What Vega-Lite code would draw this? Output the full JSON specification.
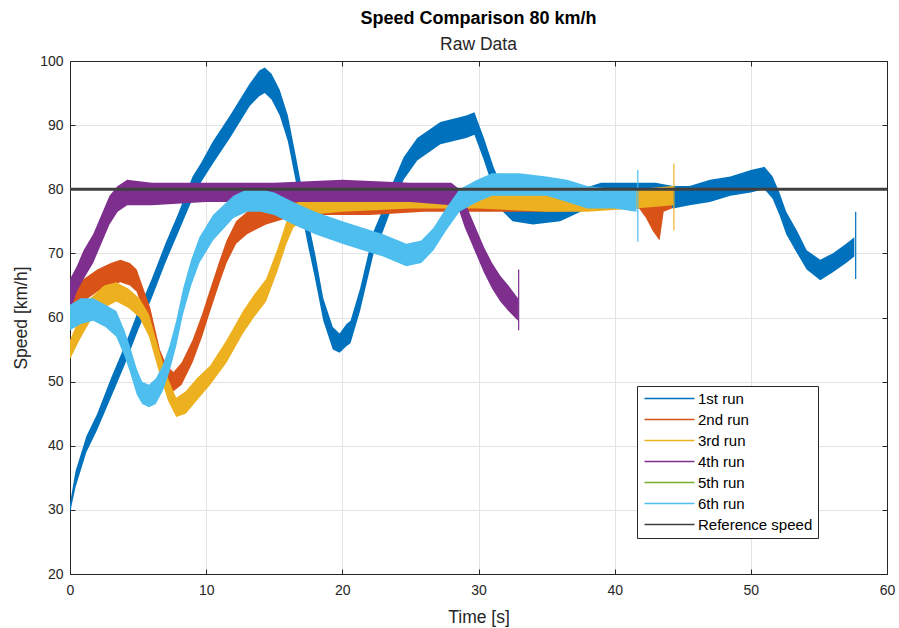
{
  "$schema": "https://vega.github.io/schema/vega-lite/v6.json",
  "autosize": {"type": "none"},
  "width": 817,
  "height": 513,
  "padding": {"left": 70, "top": 61, "right": 12, "bottom": 54},
  "background": "white",
  "title": {
    "text": "Speed Comparison 80 km/h",
    "subtitle": "Raw Data",
    "anchor": "middle",
    "font": "Liberation Sans",
    "fontSize": 18,
    "fontWeight": "bold",
    "color": "#000000",
    "subtitleFont": "Liberation Sans",
    "subtitleFontSize": 17.5,
    "subtitleColor": "#262626",
    "subtitlePadding": 8,
    "offset": 1
  },
  "datasets": {
    "runs": [
      {"run": "1st run", "t": 0, "lo": 29.5, "hi": 31},
      {"run": "1st run", "t": 0.4, "lo": 33.5, "hi": 36},
      {"run": "1st run", "t": 1.2, "lo": 39, "hi": 41.5},
      {"run": "1st run", "t": 2, "lo": 42.5, "hi": 45},
      {"run": "1st run", "t": 3, "lo": 47.5, "hi": 50.5},
      {"run": "1st run", "t": 4, "lo": 52.5, "hi": 55.5},
      {"run": "1st run", "t": 5, "lo": 58, "hi": 61},
      {"run": "1st run", "t": 6, "lo": 63, "hi": 66},
      {"run": "1st run", "t": 7, "lo": 68.5, "hi": 71.5},
      {"run": "1st run", "t": 8, "lo": 73.5, "hi": 76.5},
      {"run": "1st run", "t": 9, "lo": 78.5, "hi": 82},
      {"run": "1st run", "t": 9.6, "lo": 81, "hi": 84},
      {"run": "1st run", "t": 10.5, "lo": 84, "hi": 87.5},
      {"run": "1st run", "t": 11.75, "lo": 88, "hi": 91.5},
      {"run": "1st run", "t": 13.2, "lo": 93, "hi": 96.5},
      {"run": "1st run", "t": 13.9, "lo": 94.5, "hi": 98.5},
      {"run": "1st run", "t": 14.3, "lo": 95, "hi": 99},
      {"run": "1st run", "t": 14.8, "lo": 94, "hi": 98},
      {"run": "1st run", "t": 15.4, "lo": 91.5, "hi": 95.5},
      {"run": "1st run", "t": 16, "lo": 87.5, "hi": 91.5},
      {"run": "1st run", "t": 16.6, "lo": 81, "hi": 85},
      {"run": "1st run", "t": 17.4, "lo": 72, "hi": 76},
      {"run": "1st run", "t": 18, "lo": 66, "hi": 70},
      {"run": "1st run", "t": 18.6, "lo": 59.5, "hi": 63},
      {"run": "1st run", "t": 19.3, "lo": 55, "hi": 58.5},
      {"run": "1st run", "t": 19.8, "lo": 54.5, "hi": 57.5},
      {"run": "1st run", "t": 20.3, "lo": 55.5, "hi": 59},
      {"run": "1st run", "t": 20.6, "lo": 56, "hi": 59.5},
      {"run": "1st run", "t": 21.3, "lo": 61, "hi": 64.5},
      {"run": "1st run", "t": 22.3, "lo": 70, "hi": 73.5},
      {"run": "1st run", "t": 23, "lo": 73.5, "hi": 77},
      {"run": "1st run", "t": 23.7, "lo": 77.5, "hi": 81},
      {"run": "1st run", "t": 24.5, "lo": 81.5, "hi": 85},
      {"run": "1st run", "t": 25.5, "lo": 84.5, "hi": 88},
      {"run": "1st run", "t": 27.2, "lo": 87, "hi": 90.5},
      {"run": "1st run", "t": 29.1, "lo": 88, "hi": 91.5},
      {"run": "1st run", "t": 29.7, "lo": 88.5, "hi": 92},
      {"run": "1st run", "t": 30.4, "lo": 84.5, "hi": 88},
      {"run": "1st run", "t": 31.1, "lo": 80, "hi": 83.5},
      {"run": "1st run", "t": 31.8, "lo": 76.5, "hi": 80},
      {"run": "1st run", "t": 32.5, "lo": 75, "hi": 78.5},
      {"run": "1st run", "t": 34, "lo": 74.5, "hi": 78},
      {"run": "1st run", "t": 36, "lo": 75, "hi": 78.5},
      {"run": "1st run", "t": 37.5, "lo": 76.5, "hi": 80},
      {"run": "1st run", "t": 39, "lo": 78, "hi": 81},
      {"run": "1st run", "t": 41, "lo": 78, "hi": 81},
      {"run": "1st run", "t": 43, "lo": 78, "hi": 81},
      {"run": "1st run", "t": 44.3, "lo": 77, "hi": 80.5},
      {"run": "1st run", "t": 45.5, "lo": 77.5, "hi": 80.5},
      {"run": "1st run", "t": 47, "lo": 78, "hi": 81.5},
      {"run": "1st run", "t": 48.5, "lo": 79, "hi": 82},
      {"run": "1st run", "t": 50, "lo": 79.5, "hi": 83},
      {"run": "1st run", "t": 51, "lo": 80, "hi": 83.5},
      {"run": "1st run", "t": 51.6, "lo": 78.5, "hi": 82},
      {"run": "1st run", "t": 52.1, "lo": 76, "hi": 79.5},
      {"run": "1st run", "t": 52.6, "lo": 73, "hi": 76.5},
      {"run": "1st run", "t": 53.4, "lo": 70, "hi": 73.5},
      {"run": "1st run", "t": 54.1, "lo": 67.5, "hi": 70.5},
      {"run": "1st run", "t": 55.1, "lo": 65.8, "hi": 69},
      {"run": "1st run", "t": 56, "lo": 67, "hi": 70},
      {"run": "1st run", "t": 57, "lo": 68.5, "hi": 71.5},
      {"run": "1st run", "t": 57.6, "lo": 69.5, "hi": 72.5},

      {"run": "2nd run", "t": 0, "lo": 60.5, "hi": 64},
      {"run": "2nd run", "t": 1, "lo": 62.5, "hi": 66},
      {"run": "2nd run", "t": 2, "lo": 64, "hi": 67.5},
      {"run": "2nd run", "t": 3, "lo": 65, "hi": 68.5},
      {"run": "2nd run", "t": 3.7, "lo": 65.5, "hi": 69},
      {"run": "2nd run", "t": 4.4, "lo": 65, "hi": 68.5},
      {"run": "2nd run", "t": 4.9, "lo": 64, "hi": 67.5},
      {"run": "2nd run", "t": 5.4, "lo": 61, "hi": 64.5},
      {"run": "2nd run", "t": 5.9, "lo": 58, "hi": 61.5},
      {"run": "2nd run", "t": 6.6, "lo": 51.5, "hi": 55},
      {"run": "2nd run", "t": 7.1, "lo": 49, "hi": 52.5},
      {"run": "2nd run", "t": 7.6, "lo": 48.5, "hi": 51.5},
      {"run": "2nd run", "t": 8.2, "lo": 49.5, "hi": 53},
      {"run": "2nd run", "t": 9, "lo": 53, "hi": 56.5},
      {"run": "2nd run", "t": 9.7, "lo": 57, "hi": 60.5},
      {"run": "2nd run", "t": 10.3, "lo": 61, "hi": 64.5},
      {"run": "2nd run", "t": 11, "lo": 65.5, "hi": 69},
      {"run": "2nd run", "t": 11.5, "lo": 68.5, "hi": 72},
      {"run": "2nd run", "t": 12.2, "lo": 71.5, "hi": 75},
      {"run": "2nd run", "t": 13, "lo": 73, "hi": 76.5},
      {"run": "2nd run", "t": 14.4, "lo": 74.5, "hi": 78},
      {"run": "2nd run", "t": 16, "lo": 75.5, "hi": 78.5},
      {"run": "2nd run", "t": 18, "lo": 76, "hi": 79},
      {"run": "2nd run", "t": 22, "lo": 76, "hi": 79},
      {"run": "2nd run", "t": 26, "lo": 76.5, "hi": 79},
      {"run": "2nd run", "t": 30, "lo": 76.5, "hi": 79.5},
      {"run": "2nd run", "t": 33, "lo": 76.5, "hi": 79.5},
      {"run": "2nd run", "t": 36, "lo": 76.5, "hi": 79.5},
      {"run": "2nd run", "t": 40, "lo": 77, "hi": 79.5},
      {"run": "2nd run", "t": 41.8, "lo": 77, "hi": 79.5},
      {"run": "2nd run", "t": 42.3, "lo": 75.5, "hi": 79},
      {"run": "2nd run", "t": 42.8, "lo": 73.5, "hi": 78.5},
      {"run": "2nd run", "t": 43.3, "lo": 72, "hi": 78},
      {"run": "2nd run", "t": 43.6, "lo": 76.5, "hi": 79.5},
      {"run": "2nd run", "t": 44.2, "lo": 77, "hi": 79.5},

      {"run": "3rd run", "t": 0, "lo": 53.5, "hi": 56.5},
      {"run": "3rd run", "t": 0.7, "lo": 56.5, "hi": 60},
      {"run": "3rd run", "t": 1.5, "lo": 59.5, "hi": 63},
      {"run": "3rd run", "t": 2.5, "lo": 61.5, "hi": 65},
      {"run": "3rd run", "t": 3.4, "lo": 62.5, "hi": 65.5},
      {"run": "3rd run", "t": 4.3, "lo": 61.5, "hi": 64.5},
      {"run": "3rd run", "t": 5.1, "lo": 60, "hi": 63},
      {"run": "3rd run", "t": 5.8, "lo": 57, "hi": 60.5},
      {"run": "3rd run", "t": 6.6, "lo": 51, "hi": 54.5},
      {"run": "3rd run", "t": 7.2, "lo": 47, "hi": 50.5},
      {"run": "3rd run", "t": 7.8, "lo": 44.5, "hi": 47.5},
      {"run": "3rd run", "t": 8.5, "lo": 45, "hi": 48.5},
      {"run": "3rd run", "t": 9.3, "lo": 47, "hi": 50.5},
      {"run": "3rd run", "t": 10.3, "lo": 49.5, "hi": 52.5},
      {"run": "3rd run", "t": 11.5, "lo": 53, "hi": 56.5},
      {"run": "3rd run", "t": 12.7, "lo": 57.5, "hi": 61},
      {"run": "3rd run", "t": 13.5, "lo": 60, "hi": 63.5},
      {"run": "3rd run", "t": 14.4, "lo": 62.5, "hi": 66},
      {"run": "3rd run", "t": 15.2, "lo": 67, "hi": 70.5},
      {"run": "3rd run", "t": 15.9, "lo": 71.5, "hi": 75},
      {"run": "3rd run", "t": 16.4, "lo": 74, "hi": 77.5},
      {"run": "3rd run", "t": 17.5, "lo": 76, "hi": 79},
      {"run": "3rd run", "t": 20, "lo": 76.5, "hi": 79},
      {"run": "3rd run", "t": 25, "lo": 77, "hi": 80},
      {"run": "3rd run", "t": 30, "lo": 77, "hi": 80},
      {"run": "3rd run", "t": 35, "lo": 76.5, "hi": 79.5},
      {"run": "3rd run", "t": 38, "lo": 76.5, "hi": 79.5},
      {"run": "3rd run", "t": 41.5, "lo": 77, "hi": 80},
      {"run": "3rd run", "t": 44.3, "lo": 77.5, "hi": 80.5},

      {"run": "4th run", "t": 0, "lo": 61, "hi": 66},
      {"run": "4th run", "t": 0.5, "lo": 64, "hi": 68},
      {"run": "4th run", "t": 1, "lo": 66, "hi": 70.5},
      {"run": "4th run", "t": 1.7, "lo": 68.5, "hi": 73},
      {"run": "4th run", "t": 2.3, "lo": 71.5, "hi": 76},
      {"run": "4th run", "t": 2.9, "lo": 74.5, "hi": 79},
      {"run": "4th run", "t": 3.5, "lo": 76.5, "hi": 80.5},
      {"run": "4th run", "t": 4.2, "lo": 77.5, "hi": 81.5},
      {"run": "4th run", "t": 6, "lo": 77.5, "hi": 81},
      {"run": "4th run", "t": 10, "lo": 78, "hi": 81},
      {"run": "4th run", "t": 15, "lo": 78, "hi": 81},
      {"run": "4th run", "t": 20, "lo": 78, "hi": 81.5},
      {"run": "4th run", "t": 25, "lo": 78, "hi": 81},
      {"run": "4th run", "t": 28, "lo": 77.5, "hi": 81},
      {"run": "4th run", "t": 28.6, "lo": 76.5, "hi": 80},
      {"run": "4th run", "t": 29, "lo": 74, "hi": 78},
      {"run": "4th run", "t": 29.4, "lo": 72, "hi": 76},
      {"run": "4th run", "t": 30, "lo": 69, "hi": 73},
      {"run": "4th run", "t": 30.4, "lo": 67, "hi": 71},
      {"run": "4th run", "t": 31, "lo": 64.5, "hi": 68.5},
      {"run": "4th run", "t": 31.6, "lo": 62.5, "hi": 66.5},
      {"run": "4th run", "t": 32.2, "lo": 61, "hi": 65},
      {"run": "4th run", "t": 32.9, "lo": 59.5, "hi": 63},

      {"run": "6th run", "t": 0, "lo": 58, "hi": 62},
      {"run": "6th run", "t": 0.8, "lo": 59, "hi": 63},
      {"run": "6th run", "t": 1.7, "lo": 59.5, "hi": 63},
      {"run": "6th run", "t": 2.6, "lo": 58.5, "hi": 62},
      {"run": "6th run", "t": 3.4, "lo": 57, "hi": 61},
      {"run": "6th run", "t": 4, "lo": 54, "hi": 58},
      {"run": "6th run", "t": 4.4, "lo": 51.5, "hi": 55.5},
      {"run": "6th run", "t": 4.9, "lo": 48, "hi": 52},
      {"run": "6th run", "t": 5.3, "lo": 46.5, "hi": 50},
      {"run": "6th run", "t": 5.8, "lo": 46, "hi": 49.5},
      {"run": "6th run", "t": 6.3, "lo": 46.5, "hi": 50.5},
      {"run": "6th run", "t": 6.8, "lo": 48.5, "hi": 52.5},
      {"run": "6th run", "t": 7.3, "lo": 51.5, "hi": 55.5},
      {"run": "6th run", "t": 7.8, "lo": 55.5, "hi": 59.5},
      {"run": "6th run", "t": 8.3, "lo": 60.5, "hi": 64.5},
      {"run": "6th run", "t": 8.9, "lo": 65, "hi": 69},
      {"run": "6th run", "t": 9.5, "lo": 68.5, "hi": 72.5},
      {"run": "6th run", "t": 10.5, "lo": 72, "hi": 76},
      {"run": "6th run", "t": 12, "lo": 75.5, "hi": 79},
      {"run": "6th run", "t": 13, "lo": 76.5, "hi": 80},
      {"run": "6th run", "t": 14, "lo": 76.5, "hi": 80},
      {"run": "6th run", "t": 15, "lo": 76, "hi": 79.5},
      {"run": "6th run", "t": 16.4, "lo": 74.5, "hi": 78},
      {"run": "6th run", "t": 18, "lo": 73, "hi": 76.5},
      {"run": "6th run", "t": 20, "lo": 71.5, "hi": 75},
      {"run": "6th run", "t": 21.5, "lo": 70.5, "hi": 74},
      {"run": "6th run", "t": 23, "lo": 69.5, "hi": 73},
      {"run": "6th run", "t": 24.7, "lo": 68, "hi": 71.5},
      {"run": "6th run", "t": 25.8, "lo": 68.5, "hi": 72},
      {"run": "6th run", "t": 26.7, "lo": 70.5, "hi": 74},
      {"run": "6th run", "t": 27.6, "lo": 73.5, "hi": 77},
      {"run": "6th run", "t": 28.6, "lo": 76.5, "hi": 80},
      {"run": "6th run", "t": 29.9, "lo": 78, "hi": 81.5},
      {"run": "6th run", "t": 31, "lo": 79, "hi": 82.5},
      {"run": "6th run", "t": 33, "lo": 79, "hi": 82.5},
      {"run": "6th run", "t": 35, "lo": 79, "hi": 82},
      {"run": "6th run", "t": 36.5, "lo": 78, "hi": 81.5},
      {"run": "6th run", "t": 38, "lo": 77, "hi": 80.5},
      {"run": "6th run", "t": 40, "lo": 77, "hi": 80},
      {"run": "6th run", "t": 41.6, "lo": 76.5, "hi": 80}
    ],
    "spikes": [
      {"run": "1st run", "t": 57.7, "lo": 66, "hi": 76.5},
      {"run": "3rd run", "t": 44.35, "lo": 73.6, "hi": 84},
      {"run": "4th run", "t": 32.95, "lo": 58, "hi": 67.5},
      {"run": "6th run", "t": 41.7, "lo": 71.8, "hi": 83}
    ],
    "reference": [
      {"run": "Reference speed", "t": 0, "v": 80},
      {"run": "Reference speed", "t": 60, "v": 80}
    ]
  },
  "resolve": {"axis": {"x": "independent", "y": "independent"}},
  "layer": [
    {
      "data": {"name": "runs"},
      "mark": {"type": "area", "opacity": 1},
      "encoding": {
        "x": {
          "field": "t", "type": "quantitative",
          "scale": {"domain": [0, 60], "nice": false},
          "axis": {
            "orient": "bottom", "title": "Time [s]",
            "values": [0, 10, 20, 30, 40, 50, 60],
            "grid": true, "gridColor": "#e3e3e3",
            "domainColor": "#262626", "tickColor": "#262626", "tickSize": -5,
            "labelFont": "Liberation Sans", "labelFontSize": 14, "labelColor": "#262626",
            "labelPadding": 14, "labelFlush": false, "labelOverlap": false,
            "titleFont": "Liberation Sans", "titleFontSize": 17.5, "titleFontWeight": "normal",
            "titleColor": "#262626", "titlePadding": 11
          }
        },
        "y": {
          "field": "lo", "type": "quantitative",
          "scale": {"domain": [20, 100], "nice": false},
          "axis": {
            "orient": "left", "title": "Speed [km/h]",
            "values": [20, 30, 40, 50, 60, 70, 80, 90, 100],
            "grid": true, "gridColor": "#e3e3e3",
            "domainColor": "#262626", "tickColor": "#262626", "tickSize": -5,
            "labelFont": "Liberation Sans", "labelFontSize": 14, "labelColor": "#262626",
            "labelPadding": 12, "labelFlush": false, "labelOverlap": false,
            "titleFont": "Liberation Sans", "titleFontSize": 17.5, "titleFontWeight": "normal",
            "titleColor": "#262626", "titlePadding": 9
          }
        },
        "y2": {"field": "hi"},
        "color": {
          "field": "run", "type": "nominal",
          "scale": {
            "domain": ["1st run", "2nd run", "3rd run", "4th run", "5th run", "6th run", "Reference speed"],
            "range": ["#0072BD", "#D95319", "#EDB120", "#7E2F8E", "#77AC30", "#4DBEEE", "#404040"]
          },
          "legend": {
            "title": null,
            "orient": "none", "legendX": 567, "legendY": 325,
            "symbolType": "M-1,0H9", "symbolSize": 100, "symbolStrokeWidth": 1.5,
            "labelFont": "Liberation Sans", "labelFontSize": 15, "labelColor": "#000000",
            "labelOffset": 41, "rowPadding": 5, "padding": 5,
            "strokeColor": "#262626", "fillColor": "white",
            "encode": {
              "symbols": {
                "update": {
                  "fill": {"value": "transparent"},
                  "stroke": {"scale": "color", "field": "value"},
                  "strokeWidth": {"signal": "datum.value === 'Reference speed' ? 3.5 : 1.5"}
                }
              }
            }
          }
        }
      }
    },
    {
      "data": {"name": "spikes"},
      "mark": {"type": "rule", "strokeWidth": 1.2},
      "encoding": {
        "x": {"field": "t", "type": "quantitative", "axis": null},
        "y": {"field": "lo", "type": "quantitative", "axis": null},
        "y2": {"field": "hi"},
        "color": {"field": "run", "type": "nominal"}
      }
    },
    {
      "data": {"name": "reference"},
      "mark": {"type": "line", "strokeWidth": 3},
      "encoding": {
        "x": {"field": "t", "type": "quantitative", "axis": null},
        "y": {"field": "v", "type": "quantitative", "axis": null},
        "color": {"field": "run", "type": "nominal"}
      }
    },
    {
      "data": {"name": "reference"},
      "mark": {"type": "line", "opacity": 0},
      "encoding": {
        "x": {
          "field": "t", "type": "quantitative",
          "axis": {
            "orient": "top", "title": null, "labels": false, "grid": false,
            "values": [0, 10, 20, 30, 40, 50, 60],
            "domainColor": "#262626", "tickColor": "#262626", "tickSize": -5
          }
        },
        "y": {
          "field": "v", "type": "quantitative",
          "axis": {
            "orient": "right", "title": null, "labels": false, "grid": false,
            "values": [20, 30, 40, 50, 60, 70, 80, 90, 100],
            "domainColor": "#262626", "tickColor": "#262626", "tickSize": -5
          }
        }
      }
    }
  ],
  "config": {
    "view": {"stroke": null},
    "font": "Liberation Sans"
  }
}
